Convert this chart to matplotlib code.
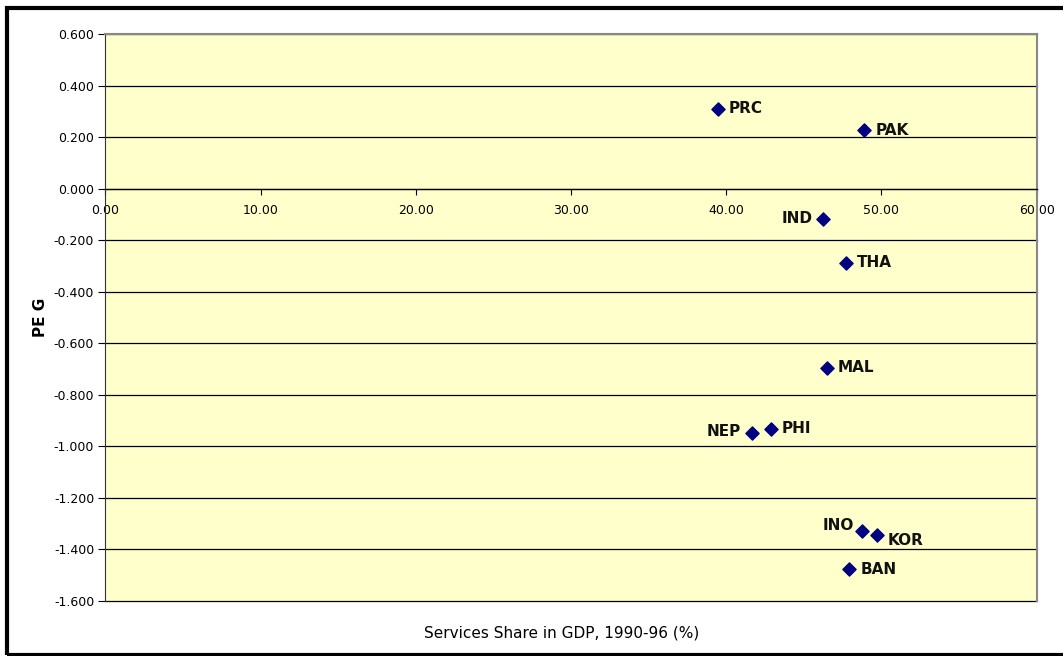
import matplotlib.pyplot as plt
from matplotlib.patches import Rectangle

# services share in GDP vs PEG
countries = ["PRC", "PAK", "IND", "THA", "MAL", "NEP", "PHI", "INO", "KOR", "BAN"]
services_share = [39.45, 48.90, 46.22, 47.70, 46.47, 41.68, 42.87, 48.77, 49.69, 47.93]
peg = [0.310, 0.226, -0.117, -0.288, -0.695, -0.947, -0.932, -1.327, -1.343, -1.476]
x_ticks = [0, 10, 20, 30, 40, 50, 60]
y_ticks = [0.6, 0.4, 0.2, 0.0, -0.2, -0.4, -0.6, -0.8, -1.0, -1.2, -1.4, -1.6]

W, H = 1063, 656
fig = plt.figure(figsize=(W / 100, H / 100), dpi=100)
ax = fig.add_axes([105.3 / W, 1 - 601 / H, (1036.7 - 105.3) / W, (601 - 34) / H])
ax.set_facecolor("#FFFFCC")

ax.scatter(services_share, peg, marker="D", s=45, color="#000080", zorder=3)

# label offsets (points): left labels for IND, NEP, INO
left = {"IND": -7, "NEP": -8, "INO": -6}
dy = {"INO": 4, "KOR": -4, "NEP": 1}
for c, x, y in zip(countries, services_share, peg):
    if c in left:
        ax.annotate(c, (x, y), xytext=(left[c], dy.get(c, 0)), textcoords="offset points",
                    ha="right", va="center", fontsize=11, fontweight="bold",
                    family="DejaVu Sans", color="#111111")
    else:
        ax.annotate(c, (x, y), xytext=(8, dy.get(c, 0)), textcoords="offset points",
                    ha="left", va="center", fontsize=11, fontweight="bold",
                    family="DejaVu Sans", color="#111111")

ax.set_xlim(0, 60)
ax.set_ylim(-1.6, 0.6)
ax.set_xticks(x_ticks)
ax.set_xticklabels([f"{v:.2f}" for v in x_ticks])
ax.set_yticks(y_ticks)
ax.set_yticklabels([f"{v:.3f}" for v in y_ticks])

for y in y_ticks:
    ax.axhline(y, color="black", lw=0.9, zorder=1, clip_on=False)

ax.spines["bottom"].set_position(("data", 0))
ax.spines["bottom"].set_color("black")
ax.spines["bottom"].set_linewidth(0.9)
ax.spines["left"].set_color("#333333")
ax.spines["top"].set_color("#888888")
ax.spines["right"].set_color("#888888")
ax.spines["right"].set_linewidth(1.5)
ax.spines["top"].set_linewidth(1.5)

ax.tick_params(axis="x", direction="out", length=4, pad=7, labelsize=9, color="black")
ax.tick_params(axis="y", direction="out", length=5, pad=3, labelsize=9, color="black")
for lab in ax.get_xticklabels() + ax.get_yticklabels():
    lab.set_family("DejaVu Sans")

ax.set_xlabel("Services Share in GDP, 1990-96 (%)", fontsize=11, family="DejaVu Sans", labelpad=0)
ax.xaxis.set_label_coords(0.49, -0.043)
ax.set_ylabel("PE G", fontsize=11, fontweight="bold", family="DejaVu Sans")
ax.yaxis.set_label_coords(-0.062, 0.5)

# outer chart border
fig.patches.append(Rectangle((7 / W, 1 / H), 1.1, 1 - 8 / H - 1 / H, transform=fig.transFigure,
                             fill=False, edgecolor="black", lw=3))

fig.savefig("out.png", dpi=100)
